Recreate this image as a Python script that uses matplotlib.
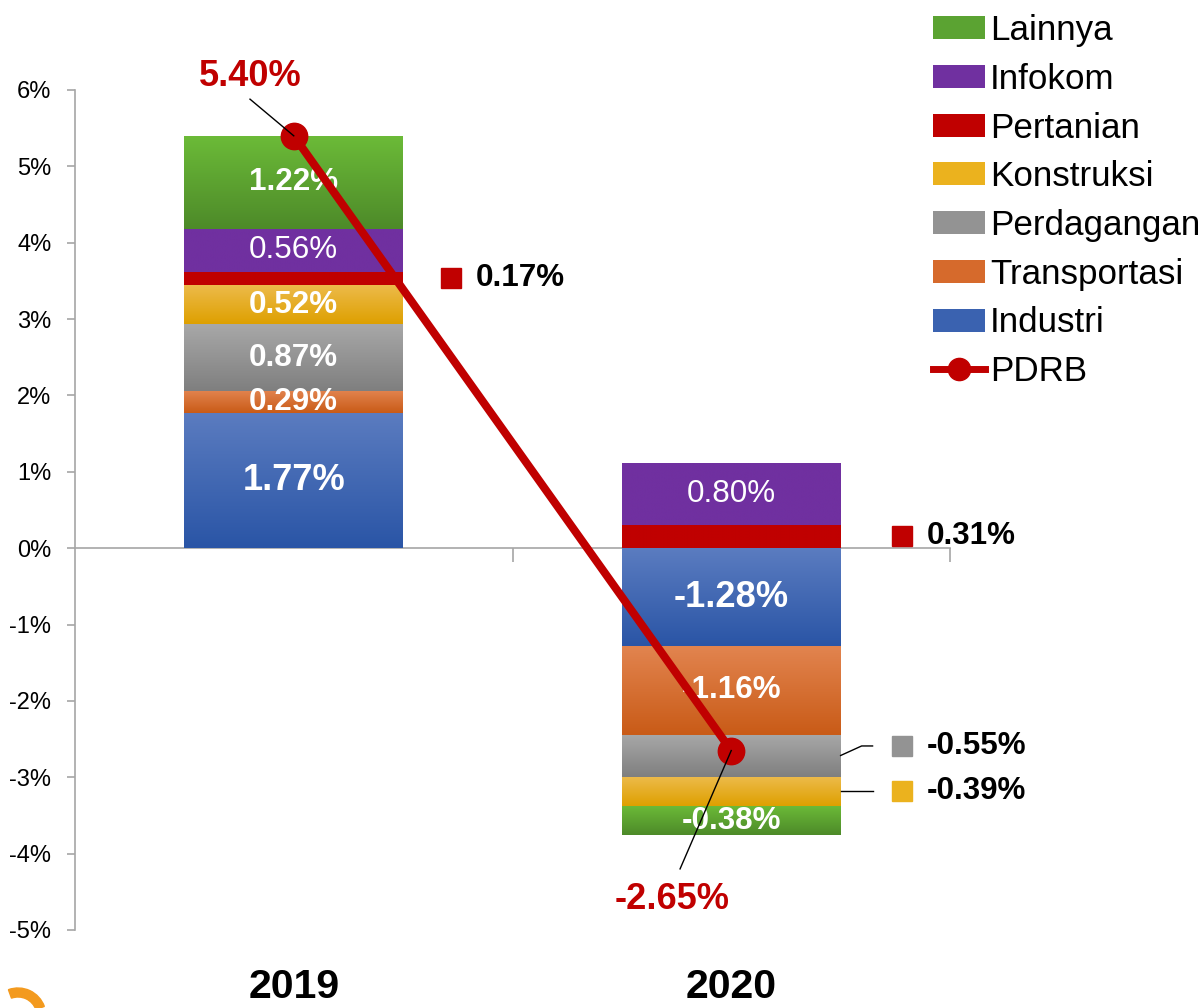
import numpy as np
import matplotlib
matplotlib.use("Agg")
import matplotlib.pyplot as plt
from matplotlib import font_manager
from matplotlib.lines import Line2D
from matplotlib.patches import Patch, Wedge
from matplotlib.colors import to_rgb

# ---------------- data ----------------
categories = ['2019', '2020']
industri = [1.77, -1.28]
transportasi = [0.29, -1.16]
perdagangan = [0.87, -0.55]
konstruksi = [0.52, -0.39]
pertanian = [0.17, 0.31]
infokom = [0.56, 0.80]
lainnya = [1.22, -0.38]
pdrb = [5.40, -2.65]
yticks = [-5, -4, -3, -2, -1, 0, 1, 2, 3, 4, 5, 6]

# ---------------- fonts ----------------
names = {f.name for f in font_manager.fontManager.ttflist}
if 'Liberation Sans Narrow' in names:
    FONT = 'Liberation Sans Narrow'; SC = 1.0
else:
    FONT = 'Liberation Sans'; SC = 0.87
plt.rcParams['font.family'] = [FONT, 'DejaVu Sans']

# ---------------- figure ----------------
fig = plt.figure(figsize=(12.04, 10.08), dpi=100)
ax = fig.add_axes([75/1204, 1-930/1008, 875/1204, 840/1008])
ax.set_xlim(-0.5, 1.5)
ax.set_ylim(-5, 6)

series = [
    ('Industri', industri, '#5B7CC0', '#2A55A6'),
    ('Transportasi', transportasi, '#E2844F', '#C95B17'),
    ('Perdagangan', perdagangan, '#A8A8A8', '#7F7F7F'),
    ('Konstruksi', konstruksi, '#EDBB4C', '#DEA000'),
    ('Pertanian', pertanian, '#C00000', '#C00000'),
    ('Infokom', infokom, '#7030A0', '#7030A0'),
    ('Lainnya', lainnya, '#6CBB38', '#4D8A29'),
]
legend_colors = {'Industri': '#3A62B0', 'Transportasi': '#D66A2C', 'Perdagangan': '#939393',
                 'Konstruksi': '#EBB21E', 'Pertanian': '#C00000', 'Infokom': '#7030A0',
                 'Lainnya': '#5BA332'}

x = np.arange(len(categories))
W = 0.5
pos = np.zeros(len(categories))
neg = np.zeros(len(categories))

def gradient(patch, ctop, cbot):
    xx, yy, w, h = patch.get_x(), patch.get_y(), patch.get_width(), patch.get_height()
    ylo, yhi = min(yy, yy + h), max(yy, yy + h)
    t = np.linspace(0, 1, 128)[:, None, None]
    img = np.array(to_rgb(cbot))[None, None, :] * (1 - t) + np.array(to_rgb(ctop))[None, None, :] * t
    im = ax.imshow(img, extent=(xx, xx + w, ylo, yhi), origin='lower', aspect='auto',
                   zorder=2, interpolation='bilinear')
    im.set_clip_path(patch)

segs = {}
for name, vals, ctop, cbot in series:
    vals = np.array(vals)
    bottoms = np.where(vals >= 0, pos, neg)
    bars = ax.bar(x, vals, W, bottom=bottoms, color=cbot, linewidth=0, zorder=2)
    for b in bars:
        gradient(b, ctop, cbot)
    for i, v in enumerate(vals):
        segs[(name, i)] = (bottoms[i] + v / 2, v)
    pos = np.where(vals >= 0, pos + vals, pos)
    neg = np.where(vals < 0, neg + vals, neg)

ax.set_xlim(-0.5, 1.5)
ax.set_ylim(-5, 6)

# in-bar labels
external = {('Pertanian', 0), ('Pertanian', 1), ('Perdagangan', 1), ('Konstruksi', 1)}
big = {('Industri', 0), ('Industri', 1)}
regular = {('Infokom', 0), ('Infokom', 1)}
for (name, i), (mid, v) in segs.items():
    if (name, i) in external:
        continue
    fs = (30 if (name, i) in big else 26) * SC
    fw = 'normal' if (name, i) in regular else 'bold'
    ax.text(x[i], mid, f'{v:.2f}%', ha='center', va='center', color='white',
            fontsize=fs, fontweight=fw, zorder=3)

# external labels
ext_specs = [(('Pertanian', 0), 0.36, 0.0, None),
             (('Pertanian', 1), 1.39, 0.0, None),
             (('Perdagangan', 1), 1.39, 0.125, 'bent'),
             (('Konstruksi', 1), 1.39, 0.0, 'straight')]
for (name, i), xm, dy, leader in ext_specs:
    mid, v = segs[(name, i)]
    ym = mid + dy
    ax.plot([xm], [ym], marker='s', markersize=14.5, color=legend_colors[name],
            linestyle='none', zorder=4, clip_on=False)
    ax.text(xm + 0.057, ym, f'{v:.2f}%', ha='left', va='center', color='black',
            fontsize=26 * SC, fontweight='bold', zorder=4)
    if leader == 'bent':
        ax.plot([x[i] + W / 2, 1.298, 1.323], [mid, ym, ym], color='black', lw=1, zorder=4)
    elif leader == 'straight':
        ax.plot([x[i] + W / 2, 1.323], [mid, ym], color='black', lw=1, zorder=4)

# PDRB line
ax.plot(x, pdrb, color='#C00000', lw=5.8, marker='o', markersize=19, zorder=5,
        solid_capstyle='round')
ax.text(-0.1, 6.18, f'{pdrb[0]:.2f}%', ha='center', va='center', color='#C00000',
        fontsize=30 * SC, fontweight='bold', zorder=6, clip_on=False)
ax.plot([-0.1, x[0]], [5.88, pdrb[0]], color='black', lw=1, zorder=6, clip_on=False)
ax.text(0.865, -4.6, f'{pdrb[1]:.2f}%', ha='center', va='center', color='#C00000',
        fontsize=30 * SC, fontweight='bold', zorder=6, clip_on=False)
ax.plot([0.883, x[1]], [-4.2, pdrb[1]], color='black', lw=1, zorder=6)

# axes styling
for s in ['top', 'right']:
    ax.spines[s].set_visible(False)
ax.spines['left'].set_color('#A6A6A6')
ax.spines['left'].set_linewidth(1.2)
ax.spines['bottom'].set_position(('data', 0))
ax.spines['bottom'].set_color('#A6A6A6')
ax.spines['bottom'].set_linewidth(1.2)
ax.spines['bottom'].set_zorder(1)
ax.set_yticks(yticks)
ax.set_yticklabels([f'{t}%' for t in yticks])
ax.tick_params(axis='y', direction='out', length=6, color='#A6A6A6', width=1.2,
               labelsize=17, pad=11)
ax.set_xticks([0.5, 1.5])
ax.set_xticklabels([])
ax.tick_params(axis='x', direction='out', length=10, color='#A6A6A6', width=1.2)
for i, c in enumerate(categories):
    ax.text(x[i], -5.74, c, ha='center', va='center', fontsize=34 * SC, fontweight='bold',
            color='black', clip_on=False)

# legend
handles = [Patch(facecolor=legend_colors[n], edgecolor='none', label=n)
           for n in ['Lainnya', 'Infokom', 'Pertanian', 'Konstruksi', 'Perdagangan',
                     'Transportasi', 'Industri']]
handles.append(Line2D([], [], color='#C00000', lw=5, marker='o', markersize=16, label='PDRB'))
fig.legend(handles=handles, loc='upper left', bbox_to_anchor=(933/1204, 1 - 14/1008),
           frameon=False, fontsize=25.2, handlelength=1.49, handleheight=0.63,
           handletextpad=0.14, labelspacing=0.45, borderaxespad=0, borderpad=0)

# logo fragment bottom-left
fig.patches.append(Wedge((18, -8), 28, 20, 110, width=9, color='#F39A1E',
                         transform=None, figure=fig))

fig.savefig('out.png', dpi=100)
